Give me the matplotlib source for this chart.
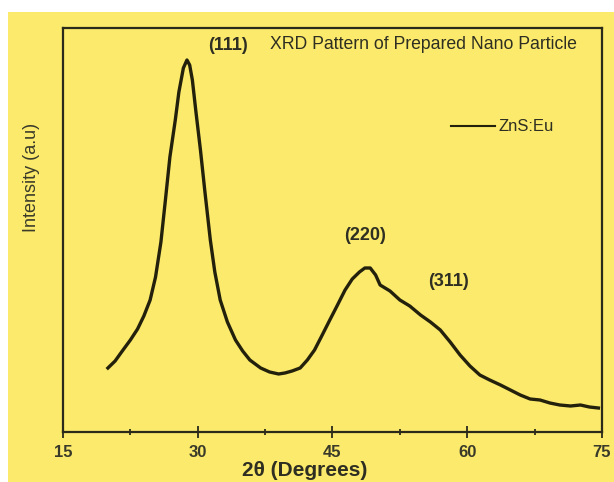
import matplotlib
matplotlib.use('Agg')
from matplotlib import pyplot as plt
from matplotlib.patches import Rectangle

plt.rcParams['font.family'] = ['Liberation Sans', 'DejaVu Sans']

# 2theta (degrees) and intensity (a.u.)
two_theta = [20.0, 20.8, 21.6, 22.5, 23.3, 24.0, 24.7, 25.3, 25.9, 26.4, 26.9,
             27.5, 27.9, 28.4, 28.8, 29.1, 29.4, 29.8, 30.3, 30.8, 31.4, 31.9,
             32.5, 33.3, 34.2, 35.0, 35.8, 37.0, 38.0, 39.0, 39.7, 40.5, 41.4,
             42.2, 43.0, 43.8, 44.7, 45.5, 46.4, 47.2, 48.0, 48.6, 49.2, 49.8,
             50.3, 51.4, 52.5, 53.6, 54.8, 55.9, 57.0, 58.1, 59.2, 60.3, 61.4,
             62.5, 63.7, 64.8, 65.9, 67.0, 68.1, 69.2, 70.3, 71.5, 72.6, 73.6,
             74.6]
intensity = [69, 76, 86, 97, 108, 121, 137, 160, 195, 237, 280,
             317, 345, 369, 377, 372, 357, 325, 287, 245, 197, 165,
             137, 115, 97, 86, 77, 69, 65, 63, 64, 66, 69,
             77, 87, 101, 117, 131, 147, 158, 165, 169, 169, 162,
             152, 146, 137, 131, 122, 115, 107, 95, 82, 71, 62,
             57, 52, 47, 42, 38, 37, 34, 32, 31, 32, 30,
             29]

peak_labels = ['(111)', '(220)', '(311)']
peak_pos = [(33.4, 392), (48.6, 202), (57.9, 155)]

fig = plt.figure(figsize=(6.14, 4.82), dpi=100)
fig.patch.set_facecolor('white')
fig.patches.append(Rectangle((8 / 614, 0), 1, 1 - 12 / 482, transform=fig.transFigure,
                             facecolor='#fbea6b', edgecolor='none', zorder=-10))

ax = fig.add_axes([63 / 614, 50 / 482, 539 / 614, 404 / 482])
ax.set_facecolor('#fbea6b')
ax.plot(two_theta, intensity, color='#23200c', lw=2.4, label='ZnS:Eu')

ax.set_xlim(15, 75)
ax.set_ylim(5, 409)
ax.set_xticks([15, 30, 45, 60, 75])
ax.set_xticks([22.5, 37.5, 52.5, 67.5], minor=True)
ax.set_yticks([])
ax.tick_params(axis='x', which='major', direction='inout', length=9, width=1.3,
               colors='#2b2a1a', labelsize=12, pad=5)
ax.tick_params(axis='x', which='minor', direction='inout', length=5, width=1.3,
               colors='#2b2a1a')
for t in ax.get_xticklabels():
    t.set_fontweight('bold')
    t.set_color('#3a3a2a')
for s in ax.spines.values():
    s.set_linewidth(1.6)
    s.set_color('#2b2a1a')

ax.set_xlabel('2θ (Degrees)', fontsize=15, fontweight='bold', color='#2e2e22')
ax.xaxis.set_label_coords(0.449, -0.072)
fig.text(32 / 614, 1 - 177 / 482, 'Intensity (a.u)', rotation=90, ha='center',
         va='center', fontsize=13, color='#3a3a2a')

for lab, (x, y) in zip(peak_labels, peak_pos):
    ax.text(x, y, lab, ha='center', va='center', fontsize=13, fontweight='bold',
            color='#2e2e22')
ax.text(0.384, 0.958, 'XRD Pattern of Prepared Nano Particle', transform=ax.transAxes,
        fontsize=12.7, color='#2e2e22', va='center')

leg = ax.legend(loc='center right', bbox_to_anchor=(0.91, 0.755), frameon=False,
                handlelength=2.6, handletextpad=0.2, fontsize=12,
                borderpad=0, borderaxespad=0)
for t in leg.get_texts():
    t.set_color('#2e2e22')
leg.get_lines()[0].set_linewidth(1.5)

fig.savefig('out.png', dpi=100, facecolor=fig.get_facecolor())
